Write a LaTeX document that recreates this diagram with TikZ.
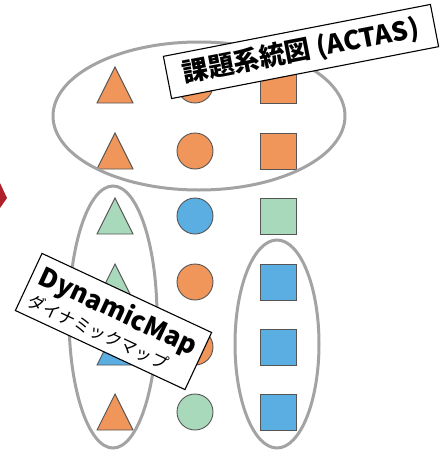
\documentclass[tikz,border=0pt]{standalone}
\usepackage{fontspec}
\newfontfamily\jp{Noto Sans CJK JP}
\usetikzlibrary{shapes.geometric}
\definecolor{cor}{HTML}{F0965A}
\definecolor{cgr}{HTML}{A9D9BB}
\definecolor{cbl}{HTML}{5BAEE2}
\definecolor{cgray}{HTML}{A3A3A3}
\definecolor{cline}{HTML}{555555}
\definecolor{cred}{HTML}{B0202A}
\tikzset{
  shp/.style={draw=cline, line width=0.9pt},
  sq/.style={shp, rectangle, minimum size=36pt, inner sep=0pt},
  circ/.style={shp, circle, minimum size=36pt, inner sep=0pt},
  tri/.pic={\path[pic actions] (-18,18) -- (0,-18) -- (18,18) -- cycle;},
  ell/.style={draw=cgray, line width=3pt, ellipse, inner sep=0pt},
  lbl/.style={draw=black, line width=1.1pt, fill=white, inner sep=0pt, font=\jp},
}
\begin{document}
\begin{tikzpicture}[x=1pt,y=-1pt]
\useasboundingbox (0,0) rectangle (447,455);
\fill[white] (0,0) rectangle (447,455);
% red partial shape at left edge
\fill[cred] (0,183) -- (7,198) -- (0,208) -- cycle;
% row 1
\pic[fill=cor, shp] (t1) at (115,85) {tri};
\node[circ, fill=cor] (c1) at (195,85) {};
\node[sq, fill=cor] (s1) at (278,85) {};
% row 2
\pic[fill=cor, shp] (t2) at (115,151) {tri};
\node[circ, fill=cor] (c2) at (195,151) {};
\node[sq, fill=cor] (s2) at (278,151) {};
% row 3
\pic[fill=cgr, shp] (t3) at (115,216) {tri};
\node[circ, fill=cbl] (c3) at (195,216) {};
\node[sq, fill=cgr] (s3) at (278,216) {};
% row 4
\pic[fill=cgr, shp] (t4) at (115,282) {tri};
\node[circ, fill=cor] (c4) at (195,282) {};
\node[sq, fill=cbl] (s4) at (278,282) {};
% row 5
\pic[fill=cbl, shp] (t5) at (115,347) {tri};
\node[circ, fill=cor] (c5) at (195,347) {};
\node[sq, fill=cbl] (s5) at (278,347) {};
% row 6
\pic[fill=cor, shp] (t6) at (115,412) {tri};
\node[circ, fill=cgr] (c6) at (195,412) {};
\node[sq, fill=cbl] (s6) at (278,412) {};
% grouping ellipses
\node[ell, minimum width=292pt, minimum height=148pt] (big) at (199,116) {};
\node[ell, minimum width=88pt, minimum height=262pt] (left) at (113,317) {};
\node[ell, minimum width=84pt, minimum height=208pt] (right) at (277,344) {};
% labels
\node[lbl, rotate=11, minimum width=272pt, minimum height=43pt, font=\jp\bfseries\fontsize{26}{26}\selectfont] (actas) at (301,51.5) {課題系統図 (ACTAS)};
\node[lbl, rotate=-25, minimum width=187pt, minimum height=63pt, align=left, inner xsep=8pt, font=\jp\fontsize{17}{25}\selectfont] (dm) at (113.5,321.5)
  {{\bfseries\fontsize{26}{25}\selectfont DynamicMap}\\ダイナミックマップ};
\end{tikzpicture}
\end{document}
